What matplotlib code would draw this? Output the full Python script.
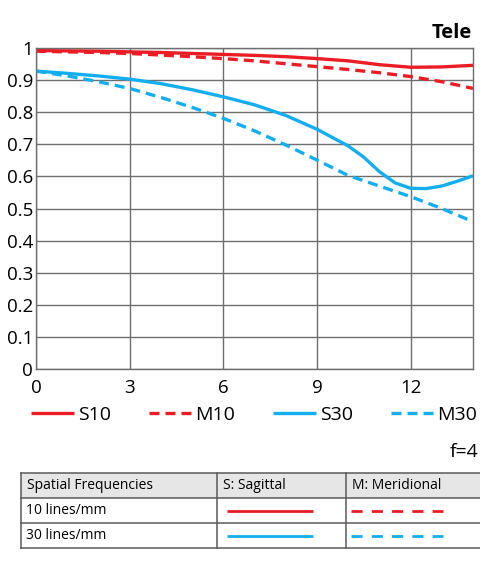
import numpy as np
import matplotlib
matplotlib.use("Agg")
import matplotlib.pyplot as plt
from matplotlib.lines import Line2D
from matplotlib.patches import Rectangle

plt.rcParams['font.family'] = ['Open Sans', 'DejaVu Sans']

RED = '#ec1c24'
BLUE = '#13aeef'
GRID = '#6e6e6e'
LW = 2.4

# image height (mm) and contrast values
x_s10 = [0, 1, 2, 3, 4, 5, 6, 7, 8, 9, 10, 11, 12, 13, 14]
s10 = [0.992, 0.991, 0.990, 0.988, 0.986, 0.983, 0.980, 0.977, 0.973, 0.967,
       0.960, 0.948, 0.940, 0.941, 0.946]
x_m10 = [0, 1, 2, 3, 4, 5, 6, 7, 8, 9, 10, 11, 12, 13, 14]
m10 = [0.990, 0.988, 0.986, 0.983, 0.978, 0.973, 0.967, 0.960, 0.951, 0.942,
       0.933, 0.923, 0.911, 0.895, 0.874]
x_s30 = [0, 1, 2, 3, 4, 5, 6, 7, 8, 9, 10, 10.5, 11, 11.5, 12, 12.5, 13, 13.5, 14]
s30 = [0.928, 0.921, 0.913, 0.903, 0.889, 0.870, 0.848, 0.823, 0.790, 0.747,
       0.695, 0.660, 0.615, 0.580, 0.563, 0.562, 0.570, 0.585, 0.602]
x_m30 = [0, 1, 2, 3, 4, 5, 6, 7, 8, 9, 10, 11, 12, 13, 14]
m30 = [0.928, 0.913, 0.895, 0.874, 0.846, 0.815, 0.781, 0.742, 0.698, 0.651,
       0.603, 0.570, 0.537, 0.500, 0.459]

x_ticks = [0, 3, 6, 9, 12]
y_ticks = [0, 0.1, 0.2, 0.3, 0.4, 0.5, 0.6, 0.7, 0.8, 0.9, 1]
y_ticklabels = ['0', '0.1', '0.2', '0.3', '0.4', '0.5', '0.6', '0.7', '0.8', '0.9', '1']

W, H = 480, 568
fig = plt.figure(figsize=(W / 100, H / 100), dpi=100)

def px_axes(x0, y0, x1, y1):
    return fig.add_axes([x0 / W, 1 - y1 / H, (x1 - x0) / W, (y1 - y0) / H])

ax = px_axes(36, 48, 473, 369)
ax.plot(x_s10, s10, color=RED, lw=LW, label='S10', solid_capstyle='butt')
ax.plot(x_m10, m10, color=RED, lw=LW, dashes=(3.0, 1.8), label='M10')
ax.plot(x_s30, s30, color=BLUE, lw=LW, label='S30', solid_capstyle='butt')
ax.plot(x_m30, m30, color=BLUE, lw=LW, dashes=(3.0, 1.8), label='M30')

ax.set_xlim(0, 14)
ax.set_ylim(0, 1)
ax.set_xticks(x_ticks)
ax.set_yticks(y_ticks)
ax.set_yticklabels(y_ticklabels)
ax.tick_params(length=0, labelsize=13.5)
ax.tick_params(axis='y', pad=2)
ax.tick_params(axis='x', pad=7)
ax.grid(True, color=GRID, lw=1.0)
for s in ax.spines.values():
    s.set_color(GRID)
    s.set_linewidth(1.0)

fig.text(472 / W, 1 - 33 / H, 'Tele', ha='right', va='center',
         fontsize=14.5, fontweight='bold')

leg = fig.legend(loc='center left', bbox_to_anchor=(31 / W, 1 - 415 / H), ncol=4,
                 frameon=False, fontsize=14, handlelength=2.2, handletextpad=0.2,
                 columnspacing=1.95, borderaxespad=0, borderpad=0)

fig.text(478 / W, 1 - 452 / H, 'f=4', ha='right', va='center', fontsize=14)

# key table at the bottom
tb = px_axes(0, 0, W, H)
tb.set_xlim(0, W)
tb.set_ylim(H, 0)
tb.axis('off')
rows = [473, 498, 523, 548]
cols = [21, 217, 346, 480]
tb.add_patch(Rectangle((cols[0], rows[0]), cols[-1] - cols[0], rows[1] - rows[0],
                       facecolor='#e6e6e6', edgecolor='none'))
for r in rows:
    tb.plot([cols[0], cols[-1]], [r, r], color='#5a5a5a', lw=1.1)
for c in cols[:-1]:
    tb.plot([c, c], [rows[0], rows[-1]], color='#5a5a5a', lw=1.1)

headers = ['Spatial Frequencies', 'S: Sagittal', 'M: Meridional']
row_labels = ['10 lines/mm', '30 lines/mm']
row_colors = [RED, BLUE]
for c, t in zip(cols, headers):
    tb.text(c + 6, (rows[0] + rows[1]) / 2, t, va='center', fontsize=10)
for i, (lab, col) in enumerate(zip(row_labels, row_colors)):
    yc = (rows[i + 1] + rows[i + 2]) / 2
    tb.text(cols[0] + 5, yc, lab, va='center', fontsize=10)
    tb.add_line(Line2D([227, 313], [yc, yc], color=col, lw=2.0, solid_capstyle='butt'))
    tb.add_line(Line2D([351, 443], [yc, yc], color=col, lw=2.0, dashes=(4.0, 3.3)))

fig.savefig('out.png', dpi=100)
